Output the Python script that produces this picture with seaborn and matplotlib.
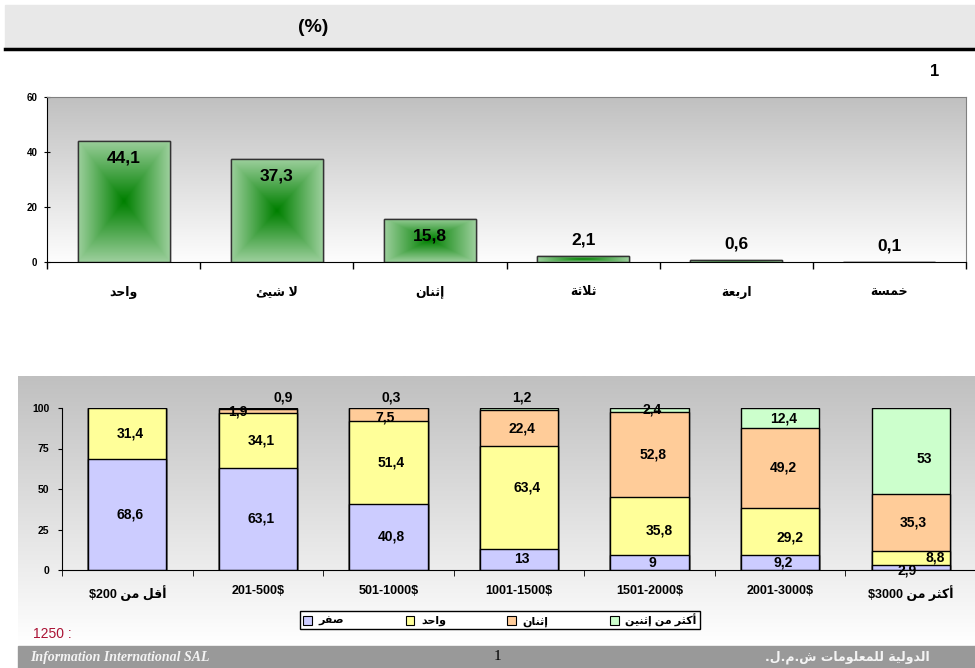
import numpy as np
import matplotlib.pyplot as plt
import seaborn as sns
from matplotlib.colors import LinearSegmentedColormap
from matplotlib.patches import Rectangle
from matplotlib.lines import Line2D

# chart 1: number of ... (%)
count_labels = ["واحد", "لا شيئ", "إثنان", "ثلاثة", "اربعة", "خمسة"]
count_values = [44.1, 37.3, 15.8, 2.1, 0.6, 0.1]

# chart 2: by income
income_labels = ["أقل من $200", "201-500$", "501-1000$", "1001-1500$",
                 "1501-2000$", "2001-3000$", "أكثر من $3000"]
series_names = ["صفر", "واحد", "إثنان", "أكثر من إثنين"]
zero = [68.6, 63.1, 40.8, 13, 9, 9.2, 2.9]
one = [31.4, 34.1, 51.4, 63.4, 35.8, 29.2, 8.8]
two = [0, 1.9, 7.5, 22.4, 52.8, 49.2, 35.3]
more = [0, 0.9, 0.3, 1.2, 2.4, 12.4, 53]
series_colors = ["#ccccff", "#ffff99", "#ffcc99", "#ccffcc"]

sample_note = "1250 :"

# label nudges (pixels) for crowded segments: (series, category) -> (dx, dy)
nudges = {(1, 3): (8, 10), (1, 4): (10, -4), (1, 5): (10, -6), (1, 6): (24, 1),
          (0, 6): (-4, -3), (2, 1): (-20, -1), (3, 1): (25, 0), (3, 6): (14, -8),
          (2, 2): (-3, -3)}

plt.rcParams['font.family'] = ['Liberation Sans', 'DejaVu Sans']

# --- minimal arabic shaping (matplotlib has no complex text layout) ---
DUAL = dict(zip('بتثحخسشصعفقكلمنيئه',
                [0xFE8F, 0xFE95, 0xFE99, 0xFEA1, 0xFEA5, 0xFEB1, 0xFEB5, 0xFEB9, 0xFEC9,
                 0xFED1, 0xFED5, 0xFED9, 0xFEDD, 0xFEE1, 0xFEE5, 0xFEF1, 0xFE89, 0xFEE9]))
RIGHT = dict(zip('اأإدروة', [0xFE8D, 0xFE83, 0xFE87, 0xFEA9, 0xFEAD, 0xFEED, 0xFE93]))
LAM_ALEF = dict(zip('اأإ', [0xFEFB, 0xFEF7, 0xFEF9]))


def shape_word(w):
    out = []
    i = 0
    while i < len(w):
        c = w[i]
        jp = i > 0 and w[i - 1] in DUAL
        if c == 'ل' and i + 1 < len(w) and w[i + 1] in LAM_ALEF:
            out.append(chr(LAM_ALEF[w[i + 1]] + jp))
            i += 2
            continue
        if c in DUAL:
            jn = i + 1 < len(w) and (w[i + 1] in DUAL or w[i + 1] in RIGHT)
            out.append(chr(DUAL[c] + (3 if jp and jn else 1 if jp else 2 if jn else 0)))
        elif c in RIGHT:
            out.append(chr(RIGHT[c] + jp))
        else:
            out.append(c)
        i += 1
    return ''.join(reversed(out))


def is_ar(s):
    return any('\u0600' <= ch <= '\u06ff' for ch in s)


def ar(s):
    if not is_ar(s):
        return s
    return ' '.join(shape_word(t) if is_ar(t) else t for t in reversed(s.split(' ')))


def fmt(v):
    return f"{v:g}".replace('.', ',')


W, H = 975, 668
fig = plt.figure(figsize=(9.75, 6.68), dpi=100)

# header band
fig.patches.append(Rectangle((5 / W, 1 - 47 / H), 970 / W, 42 / H,
                             transform=fig.transFigure, color='#e8e8e8', zorder=0))
fig.add_artist(Line2D([5 / W, 1], [1 - 48.5 / H] * 2, color='black', lw=2.5))
fig.text(313 / W, 1 - 27 / H, "(%)", ha='center', va='center', fontsize=14, fontweight='bold')
fig.text(935 / W, 1 - 72 / H, "1", ha='center', va='center', fontsize=12, fontweight='bold')

# ---------- chart 1 ----------
ax1 = fig.add_axes([47 / W, 1 - 262 / H, 919 / W, 165 / H])
grey = LinearSegmentedColormap.from_list('grey', ['#fdfdfd', '#c0c0c0'])
ax1.imshow(np.linspace(0, 1, 256).reshape(-1, 1), extent=[-0.5, 5.5, 0, 60],
           origin='lower', aspect='auto', cmap=grey, zorder=0)

sns.barplot(x=count_labels, y=count_values, ax=ax1, width=0.6, color='#99cc99',
            edgecolor='#333333', linewidth=1, zorder=2)

green = LinearSegmentedColormap.from_list('green', ['#008000', '#9ccf9c'])
u = np.linspace(-1, 1, 120)
pyramid = np.maximum(np.abs(u)[None, :], np.abs(u)[:, None])
for p in ax1.patches:
    x0, y0, w, h = p.get_x(), p.get_y(), p.get_width(), p.get_height()
    im = ax1.imshow(pyramid, extent=[x0, x0 + w, y0, y0 + h], aspect='auto',
                    cmap=green, zorder=2.5)
    im.set_clip_path(p)
    ax1.add_patch(Rectangle((x0, y0), w, h, fill=False, ec='#333333', lw=1, zorder=3))

for i, v in enumerate(count_values):
    off = -17 if v > 10 else 16
    ax1.annotate(fmt(v), (i, v), xytext=(0, off), textcoords='offset pixels',
                 ha='center', va='center', fontsize=12.5, fontweight='bold', zorder=4)

ax1.set_xlim(-0.5, 5.5)
ax1.set_ylim(0, 60)
ax1.set_yticks([0, 20, 40, 60])
ax1.set_xticks(range(6))
ax1.set_xticklabels([ar(c) for c in count_labels])
ax1.set_xticks(np.arange(-0.5, 6, 1), minor=True)
ax1.tick_params(axis='x', which='major', length=0, pad=17, labelsize=9)
ax1.tick_params(axis='x', which='minor', length=5, direction='out', width=1)
ax1.tick_params(axis='y', length=4, direction='inout', pad=5, labelsize=7)
for t in ax1.get_xticklabels() + ax1.get_yticklabels():
    t.set_fontweight('bold')
ax1.set_xlabel('')
ax1.set_ylabel('')
for s in ['top', 'right']:
    ax1.spines[s].set_color('#808080')

# ---------- chart 2 ----------
bg = fig.add_axes([18 / W, 23 / H, 957 / W, 269 / H])
grey2 = LinearSegmentedColormap.from_list('grey2', ['#ffffff', '#c0c0c0'])
bg.imshow(np.linspace(0, 1, 256).reshape(-1, 1), origin='lower', aspect='auto', cmap=grey2)
bg.axis('off')

ax2 = fig.add_axes([62 / W, 1 - 570 / H, 914 / W, 162 / H])
ax2.set_facecolor('none')
stack = np.array([zero, one, two, more])
tops = np.cumsum(stack, axis=0)
for k in range(3, -1, -1):
    sns.barplot(x=income_labels, y=tops[k], ax=ax2, width=0.6, color=series_colors[k],
                saturation=1, edgecolor='black', linewidth=1)

for k in range(4):
    for i in range(len(income_labels)):
        v = stack[k, i]
        if v == 0:
            continue
        dx, dy = nudges.get((k, i), (3, 0))
        if v < 1.5:
            y, dy = 100, 11
        else:
            y = tops[k, i] - v / 2
        ax2.annotate(fmt(v), (i, y), xytext=(dx, dy), textcoords='offset pixels',
                     ha='center', va='center', fontsize=10, fontweight='bold')

ax2.set_xlim(-0.5, 6.5)
ax2.set_ylim(0, 100)
ax2.set_yticks([0, 25, 50, 75, 100])
ax2.set_xticks(range(7))
ax2.set_xticklabels([ar(c) for c in income_labels])
ax2.set_xticks(np.arange(-0.5, 7, 1), minor=True)
ax2.tick_params(axis='x', which='major', length=0, pad=11, labelsize=9)
ax2.tick_params(axis='x', which='minor', length=4, direction='out')
ax2.tick_params(axis='y', length=3, direction='out', pad=6, labelsize=7.5)
for t in ax2.get_xticklabels() + ax2.get_yticklabels():
    t.set_fontweight('bold')
ax2.set_xlabel('')
ax2.set_ylabel('')
sns.despine(ax=ax2)

handles = [Rectangle((0, 0), 1, 1, fc=c, ec='black', lw=0.8) for c in series_colors]
leg = fig.legend(handles, [ar(n) for n in series_names], loc='center',
                 bbox_to_anchor=(500 / W, 1 - 620 / H), ncol=4, fancybox=False,
                 edgecolor='black', framealpha=1, handlelength=0.8, handleheight=0.8,
                 handletextpad=0.6, columnspacing=5.5, borderpad=0.25,
                 prop=dict(weight='bold', size=8))
leg.get_frame().set_linewidth(1)

fig.text(33 / W, 1 - 634 / H, sample_note, ha='left', va='center', fontsize=10, color='#aa1133')

# footer band
fig.patches.append(Rectangle((18 / W, 0), 957 / W, 22 / H, transform=fig.transFigure,
                             color='#999999', zorder=0))
fig.text(30 / W, 11 / H, "Information International SAL", ha='left', va='center',
         family='Liberation Serif', style='italic', fontweight='bold', fontsize=10,
         color='#f4f4f4')
fig.text(497 / W, 11 / H, "1", ha='center', va='center', family='Liberation Serif', fontsize=11)
fig.text(930 / W, 11 / H, ar("الدولية للمعلومات ش.م.ل."), ha='right', va='center',
         family='DejaVu Sans', fontweight='bold', fontsize=9, color='#f4f4f4')

fig.savefig("out.png", dpi=100)
